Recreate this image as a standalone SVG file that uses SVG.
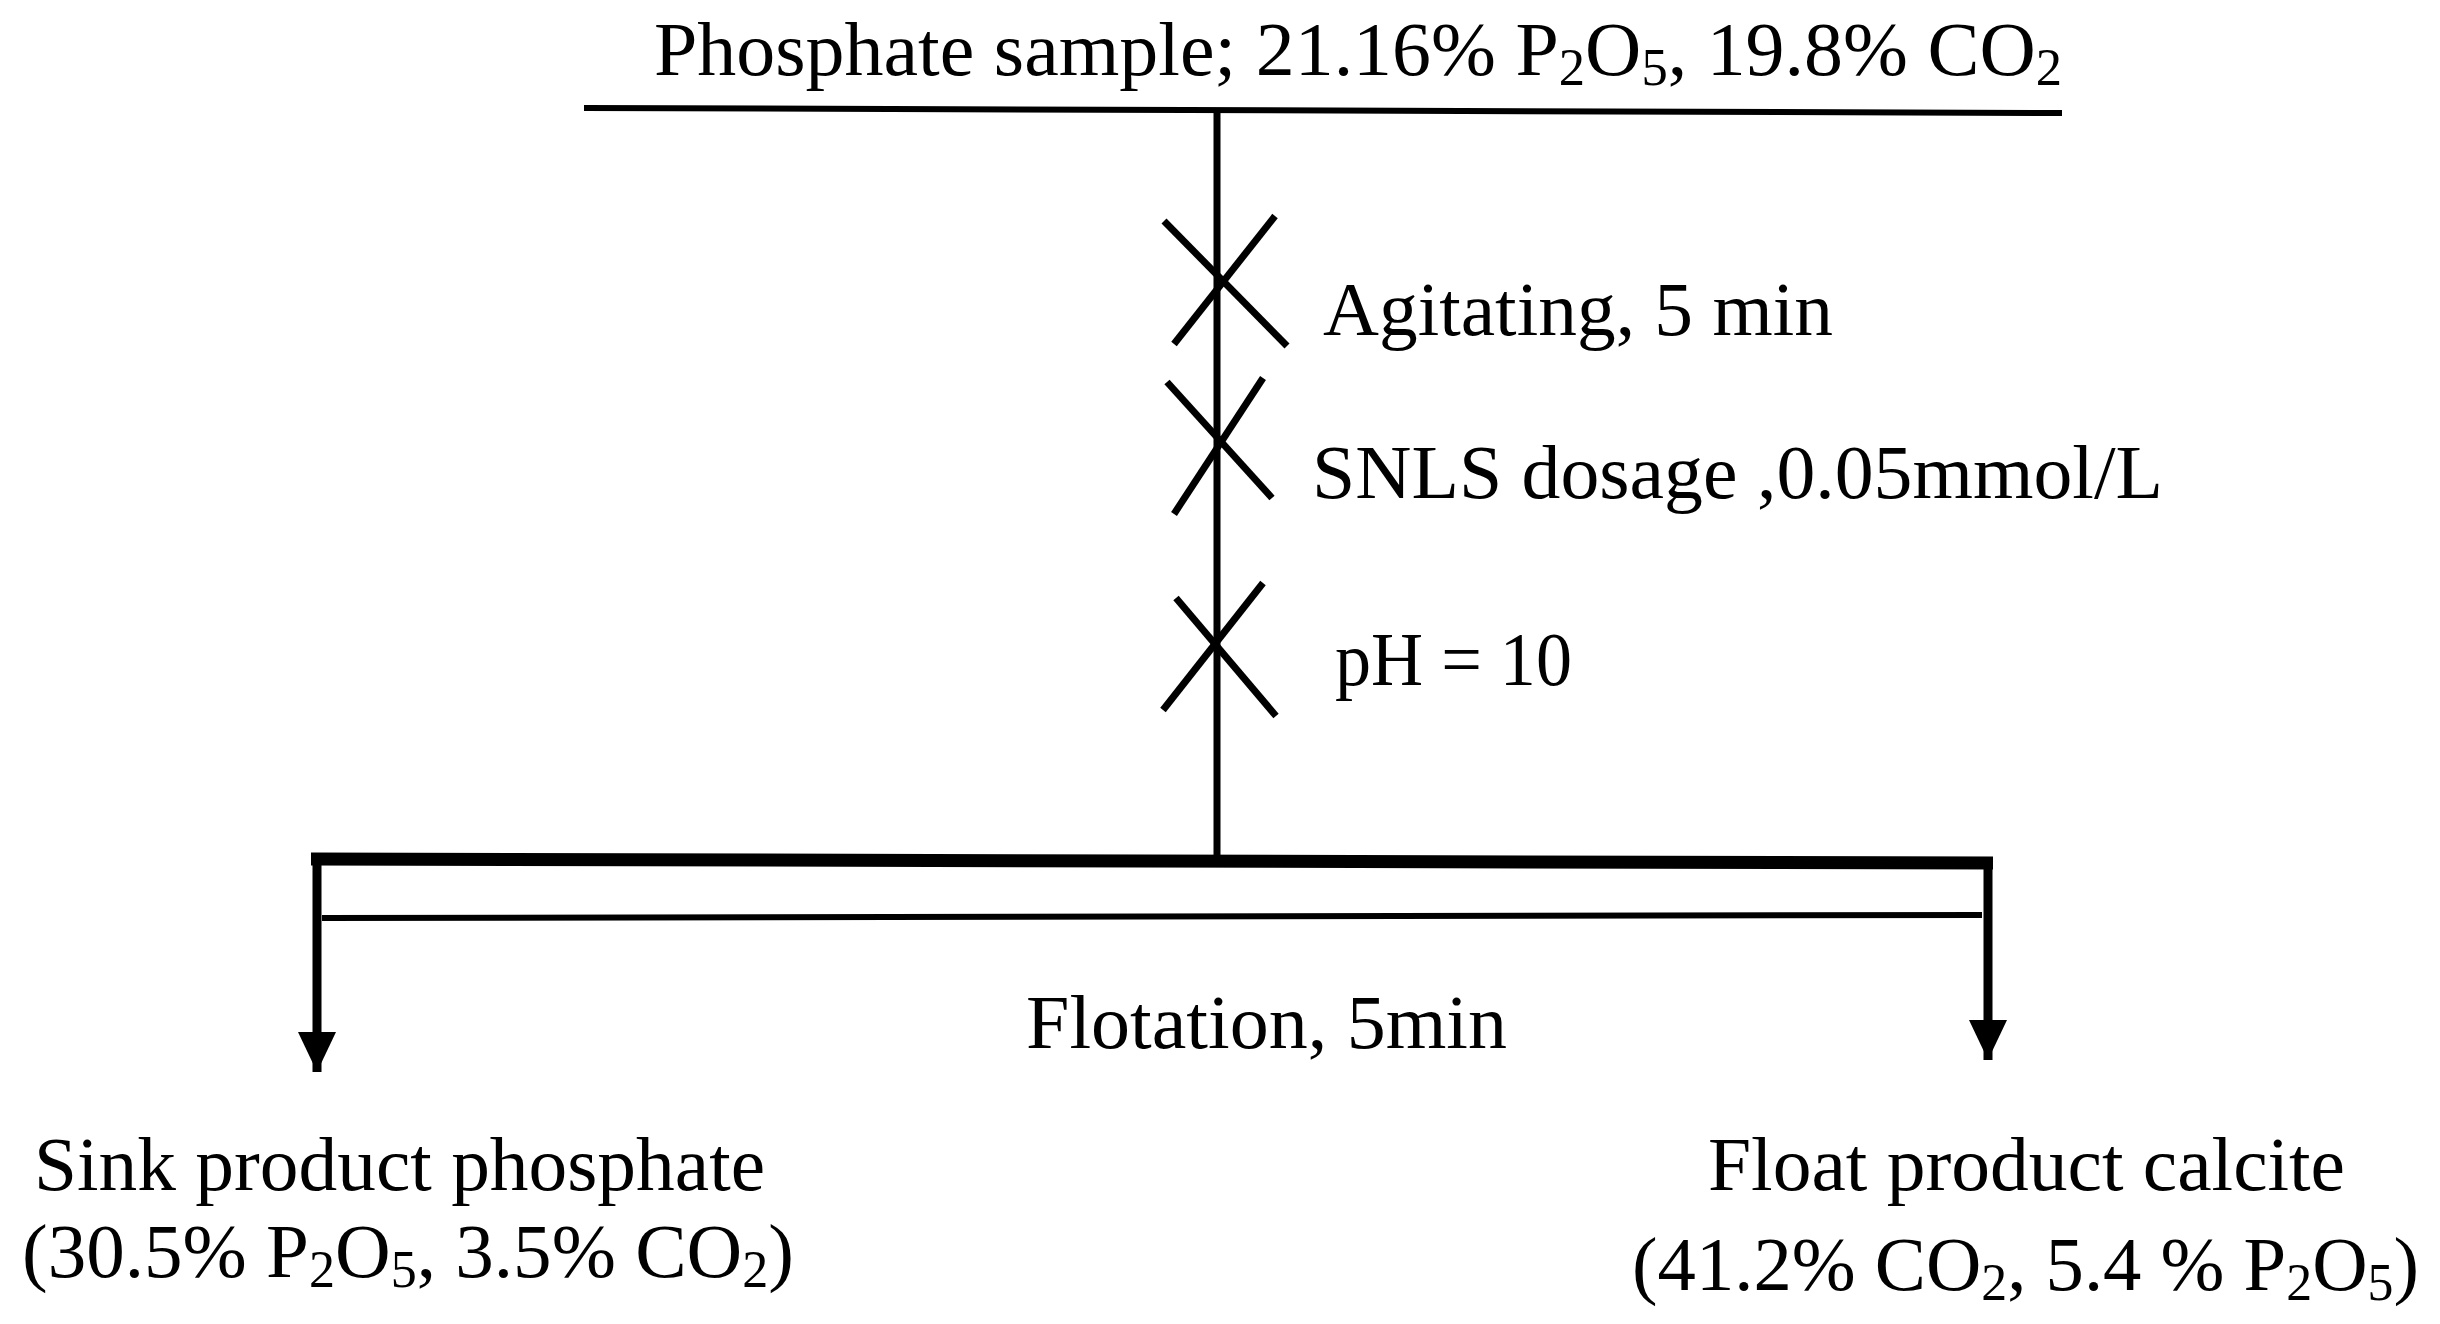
<svg xmlns="http://www.w3.org/2000/svg" width="2440" height="1324" viewBox="0 0 2440 1324">
<style>
  text { font-family: "Liberation Serif", "Times New Roman", serif; font-size: 77px; fill: #000; }
  .sub { font-size: 52px; }
  .ln { stroke: #000; fill: none; stroke-linecap: butt; }
  .x { stroke: #000; stroke-width: 7; fill: none; }
</style>
<defs>
  <marker id="arr" markerUnits="userSpaceOnUse" markerWidth="42" markerHeight="38" refX="40" refY="19" orient="auto">
    <path d="M0,0 L40,19 L0,38 z" fill="#000"/>
  </marker>
</defs>
<rect width="2440" height="1324" fill="#fff"/>

<g id="connectors">
  <line class="ln" x1="584" y1="108" x2="2062" y2="113" stroke-width="6"/>
  <line class="ln" x1="1217" y1="110" x2="1217" y2="858" stroke-width="7"/>
  <line class="ln" x1="311" y1="859" x2="1993" y2="863" stroke-width="13"/>
  <line class="ln" x1="322" y1="918" x2="1982" y2="915" stroke-width="6"/>
  <line class="ln" x1="317" y1="855" x2="317" y2="1072" stroke-width="9" marker-end="url(#arr)"/>
  <line class="ln" x1="1988" y1="858" x2="1988" y2="1060" stroke-width="9" marker-end="url(#arr)"/>
</g>

<g id="node-input">
  <text x="654" y="75" textLength="1408" lengthAdjust="spacingAndGlyphs">Phosphate sample; 21.16% P<tspan class="sub" dy="10">2</tspan><tspan dy="-10">O</tspan><tspan class="sub" dy="10">5</tspan><tspan dy="-10">, 19.8% CO</tspan><tspan class="sub" dy="10">2</tspan></text>
</g>

<g id="node-agitating">
  <line class="x" x1="1164" y1="221" x2="1287" y2="346"/>
  <line class="x" x1="1275" y1="216" x2="1174" y2="344"/>
  <text x="1323" y="335" textLength="510" lengthAdjust="spacingAndGlyphs">Agitating, 5 min</text>
</g>

<g id="node-dosage">
  <line class="x" x1="1167" y1="382" x2="1272" y2="498"/>
  <line class="x" x1="1263" y1="378" x2="1174" y2="514"/>
  <text x="1312" y="498" textLength="851" lengthAdjust="spacingAndGlyphs">SNLS dosage ,0.05mmol/L</text>
</g>

<g id="node-ph">
  <line class="x" x1="1176" y1="598" x2="1276" y2="716"/>
  <line class="x" x1="1263" y1="583" x2="1163" y2="710"/>
  <text x="1335" y="685" textLength="237" lengthAdjust="spacingAndGlyphs">pH = 10</text>
</g>

<g id="node-flotation">
  <text x="1026" y="1048" textLength="481" lengthAdjust="spacingAndGlyphs">Flotation, 5min</text>
</g>

<g id="node-sink">
  <text x="34" y="1190" textLength="731" lengthAdjust="spacingAndGlyphs">Sink product phosphate</text>
  <text x="22" y="1277" textLength="772" lengthAdjust="spacingAndGlyphs">(30.5% P<tspan class="sub" dy="10">2</tspan><tspan dy="-10">O</tspan><tspan class="sub" dy="10">5</tspan><tspan dy="-10">, 3.5% CO</tspan><tspan class="sub" dy="10">2</tspan><tspan dy="-10">)</tspan></text>
</g>

<g id="node-float">
  <text x="1708" y="1190" textLength="637" lengthAdjust="spacingAndGlyphs">Float product calcite</text>
  <text x="1632" y="1290" textLength="787" lengthAdjust="spacingAndGlyphs">(41.2% CO<tspan class="sub" dy="10">2</tspan><tspan dy="-10">, 5.4 % P</tspan><tspan class="sub" dy="10">2</tspan><tspan dy="-10">O</tspan><tspan class="sub" dy="10">5</tspan><tspan dy="-10">)</tspan></text>
</g>
</svg>
